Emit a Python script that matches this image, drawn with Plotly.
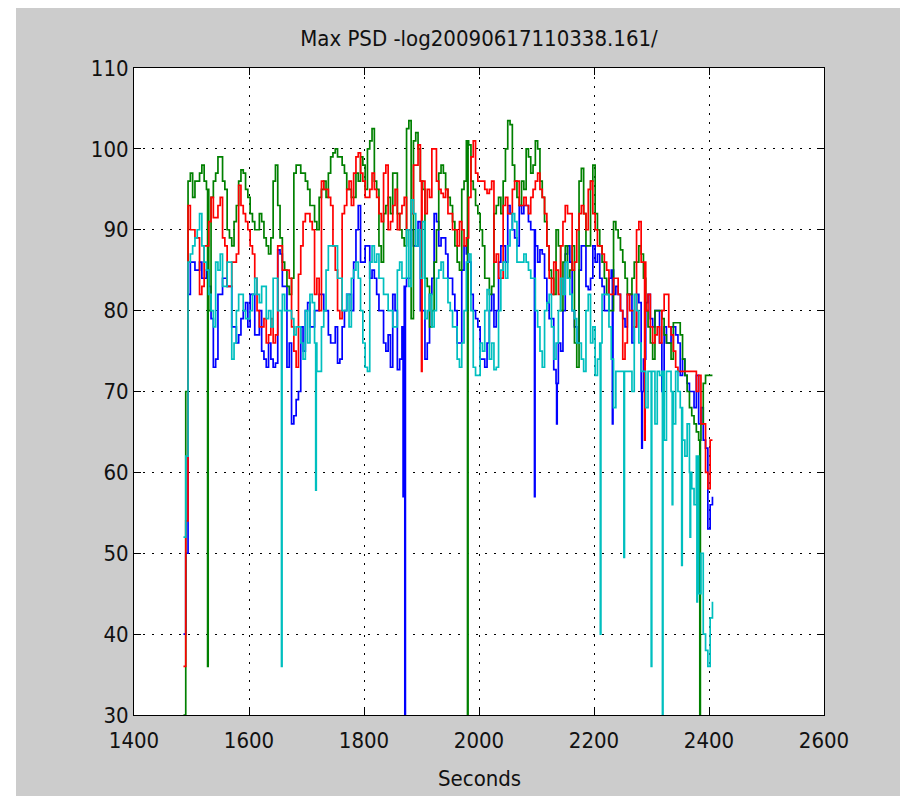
import plotly.graph_objects as go

# Sample times (seconds)
times = [1486, 1494, 1502, 1510, 1518, 1526, 1534, 1542, 1550, 1558,
         1566, 1574, 1582, 1590, 1598, 1606, 1614, 1622, 1630, 1638,
         1646, 1654, 1662, 1670, 1678, 1686, 1694, 1702, 1710, 1718,
         1726, 1734, 1742, 1750, 1758, 1766, 1774, 1782, 1790, 1798,
         1806, 1814, 1822, 1830, 1838, 1846, 1854, 1862, 1870, 1878,
         1886, 1894, 1902, 1910, 1918, 1926, 1934, 1942, 1950, 1958,
         1966, 1974, 1982, 1990, 1998, 2006, 2014, 2022, 2030, 2038,
         2046, 2054, 2062, 2070, 2078, 2086, 2094, 2102, 2110, 2118,
         2126, 2134, 2142, 2150, 2158, 2166, 2174, 2182, 2190, 2198,
         2206, 2214, 2222, 2230, 2238, 2246, 2254, 2262, 2270, 2278,
         2286, 2294, 2302, 2310, 2318, 2326, 2334, 2342, 2350, 2358,
         2366, 2374, 2382, 2390, 2398, 2406]

# In-between sample times (seconds)
times_mid = [1490, 1498, 1506, 1514, 1522, 1530, 1538, 1546, 1554, 1562,
             1570, 1578, 1586, 1594, 1602, 1610, 1618, 1626, 1634, 1642,
             1650, 1658, 1666, 1674, 1682, 1690, 1698, 1706, 1714, 1722,
             1730, 1738, 1746, 1754, 1762, 1770, 1778, 1786, 1794, 1802,
             1810, 1818, 1826, 1834, 1842, 1850, 1858, 1866, 1874, 1882,
             1890, 1898, 1906, 1914, 1922, 1930, 1938, 1946, 1954, 1962,
             1970, 1978, 1986, 1994, 2002, 2010, 2018, 2026, 2034, 2042,
             2050, 2058, 2066, 2074, 2082, 2090, 2098, 2106, 2114, 2122,
             2130, 2138, 2146, 2154, 2162, 2170, 2178, 2186, 2194, 2202,
             2210, 2218, 2226, 2234, 2242, 2250, 2258, 2266, 2274, 2282,
             2290, 2298, 2306, 2314, 2322, 2330, 2338, 2346, 2354, 2362,
             2370, 2378, 2386, 2394, 2402]

blue = [40, 82, 86, 85, 84, 85, 79, 74, 82, 84,
        83, 78, 77, 80, 78, 82, 77, 75, 73, 74,
        73.5, 87, 83, 76, 67, 70, 75, 81, 78, 80,
        82, 80, 76, 78, 74, 80, 82, 86, 93, 86,
        88, 85, 82, 80, 75, 73, 80, 74, 83, 84,
        88, 91, 80, 76, 84, 91, 89, 87, 84, 80,
        76, 88, 86, 80, 78, 74, 76, 82, 80, 88,
        86, 92, 89, 93, 93, 91, 90, 86, 87, 81,
        79, 71, 75, 87, 86, 78, 85, 88, 82.6, 88,
        87, 83, 80, 85, 83, 80, 78, 82, 78, 81,
        74, 82, 78, 80, 70, 76, 78, 77, 72, 72,
        70, 68, 66, 64, 53, 57]
blue_mid = [50, 86, 85, 86, 84, 83, 73, 82, 84, 83,
            78, 76, 79, 81, 82, 77, 80, 74, 76, 73,
            87.5, 83, 73, 66, 69, 78, 80, 78, 80, 82,
            80, 77, 76, 73.5, 78, 82, 80, 90, 86, 88,
            84, 84, 80, 76, 77, 82, 72.7, 78, 84, 90,
            88, 80, 74, 82, 92, 88, 89, 84, 82, 76,
            85, 87, 82, 79, 74, 73, 80, 78, 86, 88,
            93, 90, 88, 92, 93, 90, 88, 87.5, 84, 79,
            72.7, 76, 80, 88, 80, 76, 88, 83, 84, 86,
            84, 80, 84, 82, 82, 79, 82, 76, 82, 70,
            81, 79, 80, 76, 78, 76, 78, 76, 74, 71,
            70, 72, 68, 63, 56]

green = [30, 96, 94, 96, 98, 95, 94, 97, 99, 95,
         89, 91, 96, 97, 94, 91, 90, 91, 88, 89,
         98, 89, 85, 82, 97, 98, 97, 95, 93, 90,
         95, 94, 99, 100, 99, 97, 95, 94, 96, 98,
         100, 102.5, 95, 86, 93, 92, 97, 90, 88, 103.5,
         101, 100, 95, 83, 80, 90, 98, 95, 93, 88,
         85, 96, 100.5, 95, 92, 88, 84, 83, 93, 92,
         100, 103, 96, 93, 95, 99, 98, 100, 94, 88,
         84, 90, 80, 88, 85, 76, 96, 92, 88, 98,
         90, 86, 82, 80, 90, 87.5, 84, 82, 86, 88,
         84, 78, 74, 80, 79, 76, 74, 78.5, 77, 72,
         68, 66, 64, 71, 72, 72]
green_mid = [70, 97, 96, 97, 96, 80, 96, 99, 96, 90,
             88, 93, 97.4, 95, 92, 90, 92, 89, 87, 96,
             93, 86, 83, 84, 98, 97, 96, 93, 91, 94,
             96, 97, 99.5, 99, 98, 95, 94, 97, 99, 95,
             101, 96, 88, 92, 94, 97, 92, 89, 102.5, 79,
             102, 96, 84, 78, 86, 97, 97, 94, 91, 86,
             95, 101, 96, 93, 90, 84, 82, 92, 94, 96,
             103.5, 98, 94, 96, 100, 97, 101, 96, 91, 85,
             82, 88, 86, 84, 88, 73, 97.6, 88, 96, 92,
             88, 84, 80, 91, 89, 86, 82, 84, 86, 87,
             80, 76, 80, 80, 77, 76, 78.5, 78.5, 74, 70,
             67, 65, 66, 72, 72]

red = [36, 93, 90, 89, 83, 88, 94, 91.5, 94, 88,
       83, 86, 95.5, 92, 90, 87, 80, 78, 76, 79,
       77, 88, 85, 84, 75, 84.5, 91, 92, 90, 84,
       96, 95, 93, 85, 79, 93, 96, 97, 99.5, 96,
       94, 97, 94, 91, 98, 91, 95, 92, 94, 90,
       98, 100.5, 96, 95, 100, 96, 94.5, 95, 92, 90,
       91, 88, 94, 101, 96, 96, 94.5, 96, 87, 84,
       94, 92, 96, 93, 94, 92, 95, 97, 94, 88,
       82, 85, 88, 93, 92, 86, 92, 92, 95, 92,
       88, 87, 85, 82, 84, 80, 76, 80, 78, 91,
       86, 82, 76, 78, 80, 82, 77, 73, 72.5, 72.5,
       72.5, 72.5, 72, 66, 58, 64]
red_mid = [54, 90, 89, 82, 88, 91, 91.5, 93, 89, 83,
           86, 87, 93, 91, 88, 84, 78, 79, 77, 76,
           88, 85, 85, 78, 73, 88, 92, 91, 82, 80,
           95, 94, 88, 80, 92, 95, 93, 99, 97, 94,
           95, 95, 92, 97, 90, 93, 90, 93, 90, 92,
           98, 96, 92, 94, 100, 95, 94, 92, 90, 88,
           90, 89, 99, 97, 96, 95, 95, 86, 84, 93,
           92, 95, 96, 93, 93, 94, 96, 95, 92, 84,
           86, 82, 91, 92, 85, 90, 93, 90, 96, 90,
           88, 86, 82, 84, 82, 74, 82, 80, 90, 86,
           80, 78, 77, 76, 82, 78, 75, 72.5, 72.5, 72.5,
           72.5, 70, 66, 60, 64]

cyan = [52, 86, 88, 90, 88, 85, 80, 86, 87, 83,
        86, 76, 82, 80, 79, 82, 82, 83, 79, 78,
        84, 80, 80, 80, 77, 78, 74, 76, 81, 72.5,
        78, 85, 88, 88, 84, 80, 78, 85, 84, 76,
        72.5, 88, 87, 84, 82, 80, 78, 86, 84, 83,
        92, 90, 91, 80, 78, 84, 86, 84, 80, 78,
        73, 80, 87, 73, 72, 75, 82.6, 76, 73, 85,
        84, 90, 91, 86, 87, 85, 84, 78, 73, 81,
        78, 76, 84, 86, 82, 79, 76, 72.5, 82, 78,
        74, 82, 82, 74, 72.5, 72.5, 72.5, 72.5, 82, 76,
        72.5, 72.5, 72.5, 72.5, 72.5, 72.5, 70, 72.5, 68, 62,
        60, 56, 45, 40, 36, 44]
cyan_mid = [62, 87, 89, 92, 86, 82, 78, 85, 83, 86,
            74, 80, 82, 79, 80, 84, 81, 83, 80, 84,
            80, 82, 80, 79, 78, 76, 80, 82, 76, 72.5,
            80, 88, 88, 84, 80, 82, 84, 86, 80, 73,
            86, 86, 84, 82, 80, 78, 85, 84, 90, 93.7,
            88, 84, 79, 82, 80, 85, 84, 81, 78, 74,
            76, 86, 80, 72, 76, 80, 74, 72.7, 80, 86,
            88, 92, 86, 86, 86, 84, 80, 75, 80, 82,
            74, 80, 82, 84, 80, 76, 74, 80, 76, 72,
            76, 82, 78, 68, 72.5, 72.5, 72.5, 70, 80, 72.5,
            68, 72.5, 66, 72, 64, 72.5, 66, 70, 64, 66,
            58, 62, 50, 38, 42]

# Brief deep drops (time, value)
blue_drop_t = [1868, 1871, 2096.5, 2135, 2232, 2283]
blue_drop_v = [57, 30, 57, 66, 66, 63]
green_drop_t = [1528, 1980, 2384]
green_drop_v = [36, 30, 30]
red_drop_t = [1900, 2288]
red_drop_v = [72.5, 64]
cyan_drop_t = [1656.5, 1716, 2211, 2252, 2299.5, 2319, 2336, 2352.5, 2367, 2379]
cyan_drop_v = [36, 57.8, 40, 49.5, 36, 30, 56, 48.5, 52, 44]

x_ticks = [1400, 1600, 1800, 2000, 2200, 2400, 2600]
y_ticks = [30, 40, 50, 60, 70, 80, 90, 100, 110]


def build(ts, vs, tm, vm, dts, dvs, w=1.0):
    base = sorted(list(zip(ts, vs)) + list(zip(tm, vm)), key=lambda p: p[0])
    out = list(base)
    for dt, dv in zip(dts, dvs):
        prev = [v for t, v in base if t <= dt][-1]
        nxt = [t for t, v in base if t > dt]
        back = dt + w
        if nxt and back >= nxt[0]:
            back = (dt + nxt[0]) / 2
        out += [(dt, dv), (back, prev)]
    out.sort(key=lambda p: p[0])
    return [p[0] for p in out], [p[1] for p in out]


series = [
    (blue, blue_mid, blue_drop_t, blue_drop_v, "#0000ff"),
    (green, green_mid, green_drop_t, green_drop_v, "#008000"),
    (red, red_mid, red_drop_t, red_drop_v, "#ff0000"),
    (cyan, cyan_mid, cyan_drop_t, cyan_drop_v, "#00bfbf"),
]

fig = go.Figure()
for vals, mids, dts, dvs, col in series:
    xs, ys = build(times, vals, times_mid, mids, dts, dvs)
    fig.add_trace(go.Scatter(x=xs, y=ys, mode="lines",
                             line=dict(color=col, width=1.7, shape="hv"),
                             showlegend=False, hoverinfo="skip"))

FONT = "Liberation Sans Narrow, DejaVu Sans Condensed, Arial Narrow, sans-serif"
FS = 22

W, H = 908, 796
# the page places the figure 8px in from the top-left corner
L, R, T, B = 126, 92, 60, 89
pw, ph = W - L - R, H - T - B

axis_common = dict(
    showline=True, linecolor="black", linewidth=1, mirror="ticks",
    ticks="inside", ticklen=7, tickcolor="black", tickwidth=1,
    showgrid=True, gridcolor="black", gridwidth=1.4, griddash="2px,7px",
    zeroline=False,
    tickfont=dict(family=FONT, size=FS, color="#111111"),
)

fig.update_layout(
    width=W, height=H,
    margin=dict(l=L, r=R, t=T, b=B, pad=0),
    paper_bgcolor="#cccccc",
    plot_bgcolor="white",
    title=dict(text="Max PSD -log20090617110338.161/", x=0.5, xref="paper",
               xanchor="center", y=1 - 30 / H, yref="container", yanchor="middle",
               font=dict(family=FONT, size=FS, color="#111111")),
    xaxis=dict(range=[1400, 2600], tickvals=x_ticks, ticklabelstandoff=6, **axis_common),
    yaxis=dict(range=[30, 110], tickvals=y_ticks, ticklabelstandoff=0, **axis_common),
    annotations=[dict(text="Seconds", xref="paper", yref="paper", x=0.5,
                      y=-(771 - 707) / ph, xanchor="center", yanchor="middle",
                      showarrow=False, font=dict(family=FONT, size=FS, color="#111111"))],
    shapes=[
        dict(type="rect", xref="paper", yref="paper", layer="below",
             x0=-L / pw - 0.05, x1=(8 - L) / pw, y0=-B / ph - 0.05, y1=1 + T / ph + 0.05,
             fillcolor="white", line=dict(width=0)),
    ],
)

fig.write_html("out.html")
